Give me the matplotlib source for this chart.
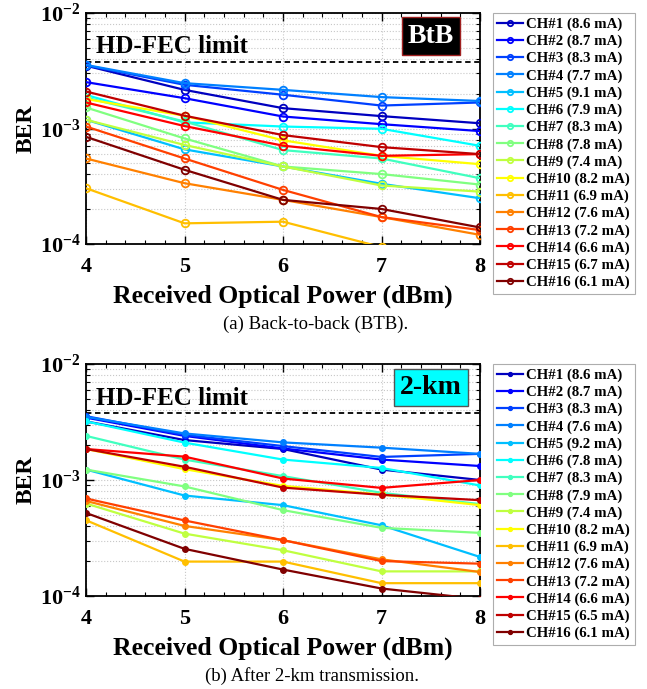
import matplotlib
matplotlib.use("Agg")
import matplotlib.pyplot as plt
import numpy as np
from matplotlib.ticker import FixedLocator, LogLocator, NullFormatter, MultipleLocator

plt.rcParams['font.family'] = ['Liberation Serif', 'DejaVu Serif']
plt.rcParams['mathtext.fontset'] = 'custom'
plt.rcParams['mathtext.rm'] = 'Liberation Serif'
plt.rcParams['mathtext.bf'] = 'Liberation Serif:bold'
plt.rcParams['mathtext.it'] = 'Liberation Serif:italic'

power = [4, 5, 6, 7, 8]

labels_btb = ["CH#1 (8.6 mA)", "CH#2 (8.7 mA)", "CH#3 (8.3 mA)", "CH#4 (7.7 mA)",
              "CH#5 (9.1 mA)", "CH#6 (7.9 mA)", "CH#7 (8.3 mA)", "CH#8 (7.8 mA)",
              "CH#9 (7.4 mA)", "CH#10 (8.2 mA)", "CH#11 (6.9 mA)", "CH#12 (7.6 mA)",
              "CH#13 (7.2 mA)", "CH#14 (6.6 mA)", "CH#15 (6.7 mA)", "CH#16 (6.1 mA)"]
labels_2km = ["CH#1 (8.6 mA)", "CH#2 (8.7 mA)", "CH#3 (8.3 mA)", "CH#4 (7.6 mA)",
              "CH#5 (9.2 mA)", "CH#6 (7.8 mA)", "CH#7 (8.3 mA)", "CH#8 (7.9 mA)",
              "CH#9 (7.4 mA)", "CH#10 (8.2 mA)", "CH#11 (6.9 mA)", "CH#12 (7.6 mA)",
              "CH#13 (7.2 mA)", "CH#14 (6.6 mA)", "CH#15 (6.5 mA)", "CH#16 (6.1 mA)"]

ber_btb_ch1 = [3.50e-3, 2.16e-3, 1.50e-3, 1.28e-3, 1.11e-3]
ber_btb_ch2 = [2.52e-3, 1.83e-3, 1.27e-3, 1.09e-3, 9.5e-4]
ber_btb_ch3 = [3.52e-3, 2.39e-3, 1.96e-3, 1.58e-3, 1.68e-3]
ber_btb_ch4 = [3.55e-3, 2.47e-3, 2.16e-3, 1.87e-3, 1.73e-3]
ber_btb_ch5 = [1.19e-3, 6.6e-4, 4.69e-4, 3.32e-4, 2.49e-4]
ber_btb_ch6 = [1.95e-3, 1.13e-3, 1.04e-3, 9.94e-4, 7.08e-4]
ber_btb_ch7 = [1.85e-3, 1.15e-3, 6.5e-4, 5.5e-4, 3.71e-4]
ber_btb_ch8 = [1.52e-3, 8.2e-4, 4.69e-4, 4.03e-4, 3.27e-4]
ber_btb_ch9 = [1.19e-3, 7.2e-4, 4.69e-4, 3.21e-4, 2.84e-4]
ber_btb_ch10 = [1.80e-3, 1.29e-3, 7.9e-4, 5.8e-4, 4.91e-4]
ber_btb_ch11 = [3.04e-4, 1.51e-4, 1.56e-4, 9.4e-5, 7.0e-5]
ber_btb_ch12 = [5.5e-4, 3.36e-4, 2.41e-4, 1.71e-4, 1.20e-4]
ber_btb_ch13 = [1.04e-3, 5.5e-4, 2.94e-4, 1.71e-4, 1.32e-4]
ber_btb_ch14 = [1.68e-3, 1.05e-3, 7.1e-4, 5.8e-4, 6.0e-4]
ber_btb_ch15 = [2.09e-3, 1.29e-3, 8.77e-4, 6.9e-4, 6.0e-4]
ber_btb_ch16 = [8.47e-4, 4.39e-4, 2.41e-4, 2.01e-4, 1.39e-4]

ber_2km_ch1 = [3.20e-3, 2.21e-3, 1.85e-3, 1.23e-3, 1.00e-3]
ber_2km_ch2 = [3.45e-3, 2.40e-3, 1.87e-3, 1.50e-3, 1.32e-3]
ber_2km_ch3 = [3.55e-3, 2.45e-3, 1.96e-3, 1.58e-3, 1.68e-3]
ber_2km_ch4 = [3.50e-3, 2.52e-3, 2.11e-3, 1.90e-3, 1.68e-3]
ber_2km_ch5 = [1.23e-3, 7.35e-4, 6.07e-4, 4.07e-4, 2.17e-4]
ber_2km_ch6 = [3.20e-3, 2.10e-3, 1.50e-3, 1.27e-3, 8.97e-4]
ber_2km_ch7 = [2.40e-3, 1.50e-3, 1.08e-3, 7.75e-4, 6.2e-4]
ber_2km_ch8 = [1.23e-3, 8.8e-4, 5.5e-4, 3.87e-4, 3.5e-4]
ber_2km_ch9 = [6.27e-4, 3.45e-4, 2.48e-4, 1.63e-4, 1.63e-4]
ber_2km_ch10 = [1.85e-3, 1.24e-3, 8.9e-4, 7.5e-4, 6.07e-4]
ber_2km_ch11 = [4.5e-4, 1.98e-4, 1.98e-4, 1.29e-4, 1.29e-4]
ber_2km_ch12 = [6.6e-4, 4.02e-4, 3.03e-4, 2.07e-4, 1.61e-4]
ber_2km_ch13 = [6.93e-4, 4.48e-4, 3.03e-4, 2.00e-4, 1.90e-4]
ber_2km_ch14 = [1.85e-3, 1.59e-3, 1.03e-3, 8.55e-4, 1.00e-3]
ber_2km_ch15 = [1.85e-3, 1.30e-3, 8.6e-4, 7.45e-4, 6.7e-4]
ber_2km_ch16 = [5.2e-4, 2.55e-4, 1.69e-4, 1.16e-4, 9.4e-5]

ber_btb = [ber_btb_ch1, ber_btb_ch2, ber_btb_ch3, ber_btb_ch4, ber_btb_ch5, ber_btb_ch6,
           ber_btb_ch7, ber_btb_ch8, ber_btb_ch9, ber_btb_ch10, ber_btb_ch11, ber_btb_ch12,
           ber_btb_ch13, ber_btb_ch14, ber_btb_ch15, ber_btb_ch16]
ber_2km = [ber_2km_ch1, ber_2km_ch2, ber_2km_ch3, ber_2km_ch4, ber_2km_ch5, ber_2km_ch6,
           ber_2km_ch7, ber_2km_ch8, ber_2km_ch9, ber_2km_ch10, ber_2km_ch11, ber_2km_ch12,
           ber_2km_ch13, ber_2km_ch14, ber_2km_ch15, ber_2km_ch16]

fec_limit = 3.8e-3
ytick_vals = [1e-4, 1e-3, 1e-2]
ytick_labels = [r'$\mathbf{10^{-4}}$', r'$\mathbf{10^{-3}}$', r'$\mathbf{10^{-2}}$']
xtick_vals = [4, 5, 6, 7, 8]

# MATLAB-style jet(16)
colors = [(0, 0, 0.75), (0, 0, 1), (0, 0.25, 1), (0, 0.5, 1), (0, 0.75, 1), (0, 1, 1),
          (0.25, 1, 0.75), (0.5, 1, 0.5), (0.75, 1, 0.25), (1, 1, 0), (1, 0.75, 0),
          (1, 0.5, 0), (1, 0.25, 0), (1, 0, 0), (0.75, 0, 0), (0.5, 0, 0)]

W, H = 647, 689
fig = plt.figure(figsize=(W / 100, H / 100), dpi=100)

def frac(l, t, r, b):
    return [l / W, 1 - b / H, (r - l) / W, (b - t) / H]

def setup(ax, tag, tag_fc, tag_ec, tag_color):
    ax.set_yscale('log')
    ax.set_xlim(4, 8)
    ax.set_ylim(1e-4, 1e-2)
    ax.axhline(fec_limit, color='black', ls=(0, (3, 2)), lw=1.3, zorder=1)
    ax.yaxis.set_major_locator(FixedLocator(ytick_vals))
    ax.set_yticklabels(ytick_labels, fontsize=16)
    ax.yaxis.set_minor_locator(LogLocator(base=10, subs=np.arange(2, 10)))
    ax.yaxis.set_minor_formatter(NullFormatter())
    ax.xaxis.set_major_locator(FixedLocator(xtick_vals))
    ax.xaxis.set_minor_locator(MultipleLocator(0.2))
    ax.set_xticklabels([str(v) for v in xtick_vals], fontsize=16, fontweight='bold')
    ax.tick_params(which='both', direction='in', top=True, right=True)
    ax.tick_params(which='major', length=6, width=1)
    ax.tick_params(which='minor', length=3, width=0.8)
    ax.tick_params(axis='x', pad=9)
    ax.tick_params(axis='y', pad=4)
    ax.grid(True, which='major', axis='x', ls=':', color='#c8c8c8', lw=0.8)
    ax.grid(True, which='both', axis='y', ls=':', color='#c8c8c8', lw=0.8)
    for s in ax.spines.values():
        s.set_linewidth(1.3)
    ax.set_ylabel('BER', fontsize=17, fontweight='bold', labelpad=2)
    ax.set_xlabel('Received Optical Power (dBm)', fontsize=18.5, fontweight='bold', labelpad=6)
    ax.text(0.025, 0.825, 'HD-FEC limit', transform=ax.transAxes, fontsize=18,
            fontweight='bold', va='baseline', ha='left')
    ax.text(0.876, 0.90, tag, transform=ax.transAxes, fontsize=20, fontweight='bold',
            color=tag_color, ha='center', va='center',
            bbox=dict(boxstyle='square,pad=0.22', fc=tag_fc, ec=tag_ec, lw=1))

def make_legend(ax):
    leg = ax.legend(loc='upper left', bbox_to_anchor=(1.033, 1.0),
                    prop={'weight': 'bold', 'size': 10.7}, frameon=True, fancybox=False,
                    edgecolor='#999999', borderpad=0.3, labelspacing=0.245,
                    handlelength=1.75, handletextpad=0.2, borderaxespad=0, markerscale=0.7)
    leg.get_frame().set_linewidth(0.8)

ax1 = fig.add_axes(frac(86, 13, 480, 244))
for i in range(16):
    ax1.plot(power, ber_btb[i], color=colors[i], lw=1.6, marker='o', ms=5.5,
             mfc='none', mew=1.3, label=labels_btb[i], zorder=3)
setup(ax1, 'BtB', 'black', '#a02020', 'white')
make_legend(ax1)
fig.text(316 / W, 1 - 324 / H, '(a) Back-to-back (BTB).', fontsize=13.5,
         ha='center', va='center')

ax2 = fig.add_axes(frac(86, 364, 480, 596))
for i in range(16):
    ax2.plot(power, ber_2km[i], color=colors[i], lw=1.6, marker='o', ms=4,
             label=labels_2km[i], zorder=3)
setup(ax2, '2-km', '#00ffff', '#555555', 'black')
make_legend(ax2)
fig.text(312 / W, 1 - 676 / H, '(b) After 2-km transmission.', fontsize=13.5,
         ha='center', va='center')

fig.savefig('out.png', dpi=100)
